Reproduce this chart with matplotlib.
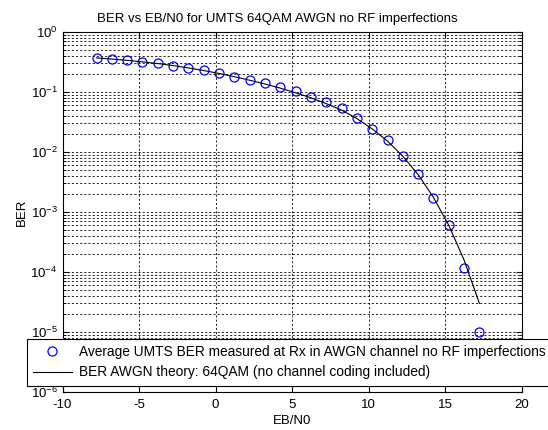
import numpy as np
import matplotlib
matplotlib.use("Agg")
import matplotlib.pyplot as plt
from matplotlib.ticker import LogLocator, NullLocator, FixedLocator

plt.rcParams['font.family'] = ['Liberation Sans', 'DejaVu Sans']
plt.rcParams['axes.unicode_minus'] = False
plt.rcParams['mathtext.fontset'] = 'custom'
plt.rcParams['mathtext.rm'] = 'Liberation Sans'
plt.rcParams['mathtext.it'] = 'Liberation Sans'
plt.rcParams['mathtext.bf'] = 'Liberation Sans'

ebn0 = [-7.78, -6.78, -5.78, -4.78, -3.78, -2.78, -1.78, -0.78, 0.22, 1.22,
        2.22, 3.22, 4.22, 5.22, 6.22, 7.22, 8.22, 9.22, 10.22, 11.22,
        12.22, 13.22, 14.22, 15.22, 16.22, 17.22]
ber_meas = [0.373, 0.355, 0.341, 0.316, 0.301, 0.271, 0.248, 0.230, 0.205, 0.180,
            0.158, 0.143, 0.120, 0.103, 0.0835, 0.0689, 0.0535, 0.0373, 0.0245, 0.0158,
            0.00868, 0.0043, 0.00171, 6.0e-4, 1.18e-4, 9.9e-6]
ber_theory = [0.370, 0.354, 0.337, 0.318, 0.298, 0.276, 0.252, 0.228, 0.204, 0.180,
              0.157, 0.136, 0.116, 0.097, 0.080, 0.064, 0.050, 0.036, 0.0243, 0.0152,
              0.0085, 0.0042, 0.00175, 6.0e-4, 1.58e-4, 3.0e-5]

xticks = [-10, -5, 0, 5, 10, 15, 20]
yticks = [1e-6, 1e-5, 1e-4, 1e-3, 1e-2, 1e-1, 1e0]
ytick_labels = [r'$10^{-6}$', r'$10^{-5}$', r'$10^{-4}$', r'$10^{-3}$',
                r'$10^{-2}$', r'$10^{-1}$', r'$10^{0}$']

fig = plt.figure(figsize=(5.48, 4.30), dpi=100)
ax = fig.add_axes([62.5/548, 1 - 392/430, (522 - 62.5)/548, (392 - 32)/430])

ax.semilogy(ebn0, ber_meas, 'o', color='#0000ff', markerfacecolor='none',
            markersize=6.5, markeredgewidth=0.9,
            label='Average UMTS BER measured at Rx in AWGN channel no RF imperfections')
ax.semilogy(ebn0, ber_theory, '-', color='black', linewidth=0.8,
            label='BER AWGN theory: 64QAM (no channel coding included)')

ax.set_xlim(-10, 20)
ax.set_ylim(1e-6, 1e0)
ax.xaxis.set_major_locator(FixedLocator(xticks))
ax.xaxis.set_minor_locator(NullLocator())
ax.set_yticks(yticks)
ax.set_yticklabels(ytick_labels)
ax.yaxis.set_minor_locator(LogLocator(base=10, subs=np.arange(2, 10), numticks=20))

ax.grid(True, which='major', axis='both', color='black', linestyle=(0, (2.5, 2.5)), linewidth=0.6)
ax.grid(True, which='minor', axis='y', color='black', linestyle=(0, (2.5, 2.5)), linewidth=0.6)

ax.tick_params(which='both', direction='in', top=True, right=True, labelsize=9.5, length=4)
ax.tick_params(axis='x', pad=5)
ax.tick_params(which='minor', length=2)
for s in ax.spines.values():
    s.set_linewidth(0.8)

ax.set_title('BER vs EB/N0 for UMTS 64QAM AWGN no RF imperfections', fontsize=9.5, pad=7,
             x=(277 - 62.5) / 459.5)
ax.set_xlabel('EB/N0', fontsize=9.5, labelpad=3)
ax.set_ylabel('BER', fontsize=9.5, labelpad=2)

leg = fig.legend(loc='upper left', bbox_to_anchor=(27/548, 1 - 339/430),
                 fontsize=9.9, frameon=True, fancybox=False, edgecolor='black',
                 framealpha=1, borderpad=0.45, labelspacing=0.45, handlelength=2.8,
                 handletextpad=0.55, borderaxespad=0)
leg.get_frame().set_linewidth(0.8)
leg.set_zorder(10)

fig.savefig('out.png', dpi=100)
